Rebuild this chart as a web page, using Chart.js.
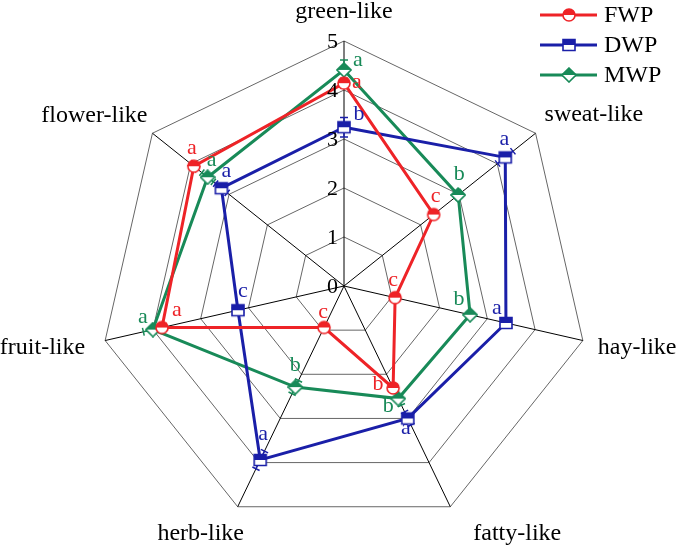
<!DOCTYPE html>
<html lang="en">
<head>
  <meta charset="UTF-8">
  <title>Odour profile radar</title>
  <script src="https://cdn.jsdelivr.net/npm/chart.js"></script>
  <style>
    body { margin: 0; background: #fff; }
  </style>
</head>
<body>
  <canvas id="radarChart" width="679" height="550"></canvas>
  <script>
    // axis labels and tick values
    const labels = ['green-like', 'sweat-like', 'hay-like', 'fatty-like', 'herb-like', 'fruit-like', 'flower-like'];
    const tickValues = [0, 1, 2, 3, 4, 5];
    const seriesNames = ['FWP', 'DWP', 'MWP'];

    // mean scores
    const fwp = [4.14, 2.34, 1.07, 2.31, 0.94, 3.81, 3.92];
    const dwp = [3.24, 4.21, 3.39, 3.00, 3.94, 2.22, 3.20];
    const mwp = [4.41, 2.98, 2.64, 2.55, 2.29, 4.00, 3.56];

    // error bar half-widths (estimated)
    const fwpErr = [0.10, 0.05, 0.05, 0.05, 0.05, 0.10, 0.10];
    const dwpErr = [0.20, 0.20, 0.10, 0.15, 0.20, 0.10, 0.15];
    const mwpErr = [0.20, 0.10, 0.05, 0.15, 0.15, 0.20, 0.15];

    // significance letters
    const fwpSig = ['a', 'c', 'c', 'b', 'c', 'a', 'a'];
    const dwpSig = ['b', 'a', 'a', 'a', 'a', 'c', 'a'];
    const mwpSig = ['a', 'b', 'b', 'b', 'b', 'a', 'a'];

    const colors = ['#ee2327', '#1a1fa8', '#188a58'];
    const serif = '"Liberation Serif", "Times New Roman", serif';

    // where each significance letter sits relative to its point
    const sigOffsets = [
      [[13, -1], [2, -18], [-2, -17], [-15, -4], [-1, -15], [15, -17], [-2, -18]],
      [[15, -13], [-1, -18], [-9, -15], [-2, 10], [3, -26], [5, -19], [5, -17]],
      [[14, -10], [1, -21], [-11, -16], [-10, 8], [0, -22], [-10, -12], [4, -17]]
    ];

    // half filled markers: top half coloured, bottom half white
    function makeMarker(shape, color) {
      const c = document.createElement('canvas');
      c.width = 16; c.height = 16;
      const g = c.getContext('2d');
      const m = 8;
      function path() {
        g.beginPath();
        if (shape === 'circle') {
          g.arc(m, m, 6, 0, Math.PI * 2);
        } else if (shape === 'square') {
          g.rect(2, 2.5, 12, 11);
        } else {
          g.moveTo(m, 1); g.lineTo(15, m); g.lineTo(m, 15); g.lineTo(1, m); g.closePath();
        }
      }
      path();
      g.fillStyle = '#fff';
      g.fill();
      g.save();
      g.beginPath();
      g.rect(0, 0, 16, m);
      g.clip();
      path();
      g.fillStyle = color;
      g.fill();
      g.restore();
      path();
      g.strokeStyle = color;
      g.lineWidth = 1.6;
      g.stroke();
      return c;
    }

    const markers = [
      makeMarker('circle', colors[0]),
      makeMarker('square', colors[1]),
      makeMarker('diamond', colors[2])
    ];
    const errs = [fwpErr, dwpErr, mwpErr];
    const sigs = [fwpSig, dwpSig, mwpSig];

    const extras = {
      id: 'extras',
      beforeDatasetsDraw(chart) {
        const ctx = chart.ctx;
        const r = chart.scales.r;
        // error bars along each axis
        chart.data.datasets.forEach((ds, d) => {
          ctx.save();
          ctx.strokeStyle = colors[d];
          ctx.lineWidth = 1.5;
          ds.data.forEach((v, i) => {
            const e = errs[d][i];
            const lo = r.getPointPosition(i, r.getDistanceFromCenterForValue(v - e));
            const hi = r.getPointPosition(i, r.getDistanceFromCenterForValue(v + e));
            const ang = r.getIndexAngle(i) - Math.PI / 2;
            const px = -Math.sin(ang) * 4, py = Math.cos(ang) * 4;
            ctx.beginPath();
            ctx.moveTo(lo.x, lo.y); ctx.lineTo(hi.x, hi.y);
            ctx.moveTo(lo.x - px, lo.y - py); ctx.lineTo(lo.x + px, lo.y + py);
            ctx.moveTo(hi.x - px, hi.y - py); ctx.lineTo(hi.x + px, hi.y + py);
            ctx.stroke();
          });
          ctx.restore();
        });
      },
      afterDatasetsDraw(chart) {
        const ctx = chart.ctx;
        const r = chart.scales.r;
        ctx.save();
        ctx.font = '22px ' + serif;
        ctx.textBaseline = 'middle';

        // tick labels left of the top axis
        ctx.fillStyle = '#000';
        ctx.textAlign = 'right';
        tickValues.forEach(t => {
          const y = r.yCenter - r.getDistanceFromCenterForValue(t);
          ctx.fillText(String(t), r.xCenter - 6, y + 1);
        });

        // axis labels
        ctx.font = '24px ' + serif;
        const labelPlace = [
          ['center', 0, -29], ['left', 9, -19], ['left', 15, 7], ['left', 23, 27],
          ['center', -37, 27], ['right', -20, 7], ['right', -5, -18]
        ];
        labels.forEach((lab, i) => {
          const p = r.getPointPosition(i, r.drawingArea);
          const [align, dx, dy] = labelPlace[i];
          ctx.textAlign = align;
          ctx.fillText(lab, p.x + dx, p.y + dy);
        });

        // significance letters
        ctx.font = '22px ' + serif;
        ctx.textAlign = 'center';
        chart.data.datasets.forEach((ds, d) => {
          const meta = chart.getDatasetMeta(d);
          ctx.fillStyle = colors[d];
          meta.data.forEach((pt, i) => {
            const [dx, dy] = sigOffsets[d][i];
            ctx.fillText(sigs[d][i], pt.x + dx, pt.y + dy);
          });
        });

        // legend, top right
        ctx.font = '24px ' + serif;
        ctx.textAlign = 'left';
        seriesNames.forEach((name, d) => {
          const y = 15 + d * 30;
          ctx.strokeStyle = colors[d];
          ctx.lineWidth = 3;
          ctx.beginPath();
          ctx.moveTo(540, y); ctx.lineTo(597, y);
          ctx.stroke();
          ctx.drawImage(markers[d], 569 - 8, y - 8);
          ctx.fillStyle = '#000';
          ctx.fillText(name, 604, y + 1);
        });
        ctx.restore();
      }
    };

    const ctx = document.getElementById('radarChart').getContext('2d');
    const radarChart = new Chart(ctx, {
      type: 'radar',
      data: {
        labels: labels,
        datasets: [fwp, dwp, mwp].map((vals, d) => ({
          label: seriesNames[d],
          data: vals,
          borderColor: colors[d],
          backgroundColor: 'rgba(0,0,0,0)',
          borderWidth: 3,
          fill: false,
          pointStyle: markers[d],
          pointRadius: 6,
          pointHoverRadius: 6
        }))
      },
      options: {
        responsive: false,
        animation: false,
        plugins: {
          legend: { display: false },
          tooltip: { enabled: false }
        },
        scales: {
          r: {
            min: 0,
            max: 5,
            ticks: { stepSize: 1, display: false },
            pointLabels: { display: false },
            grid: { color: '#666666', lineWidth: 1 },
            angleLines: { color: '#000', lineWidth: 1 },
            afterFit: (scale) => {
              // pin the web to where it sits in the figure
              scale.xCenter = 344;
              scale.yCenter = 286;
              scale.drawingArea = 245;
            }
          }
        }
      },
      plugins: [extras]
    });
  </script>
</body>
</html>
